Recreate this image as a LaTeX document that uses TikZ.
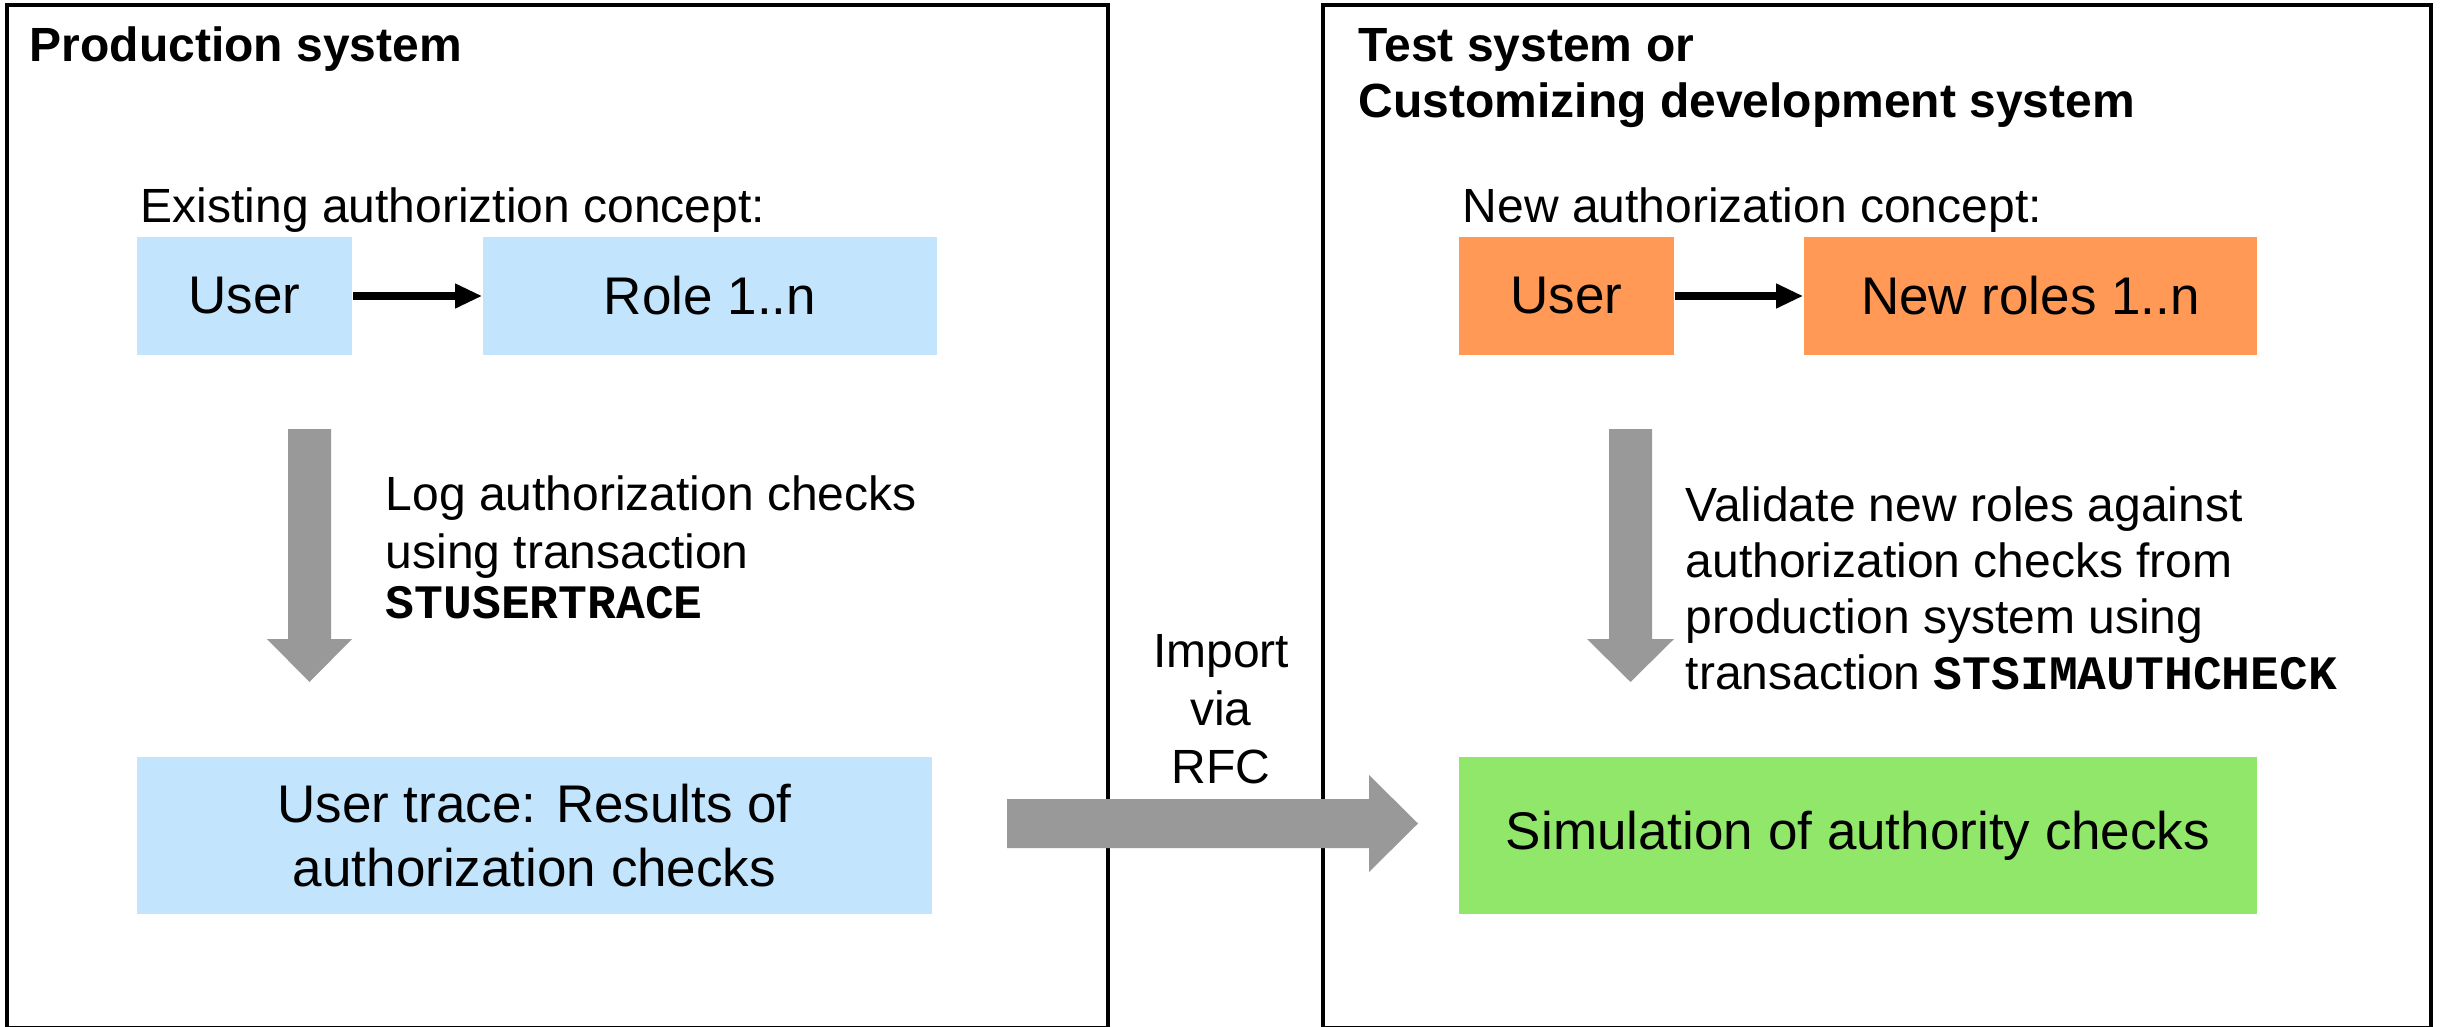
\documentclass[tikz,border=0pt]{standalone}
\usepackage{fontspec}
\setmainfont{Liberation Sans}
\setmonofont{Liberation Mono}
\usetikzlibrary{arrows.meta,calc}
\definecolor{lblue}{HTML}{C2E4FC}
\definecolor{orng}{HTML}{FF9955}
\definecolor{lgreen}{HTML}{91E76A}
\definecolor{gbar}{HTML}{999999}
\tikzset{
  sysframe/.style={draw=black, line width=1pt},
  boxbase/.style={rectangle, inner sep=0pt, draw=none, align=center, font=\fontsize{13.25}{16}\selectfont},
  bluebox/.style={boxbase, fill=lblue},
  orangebox/.style={boxbase, fill=orng},
  greenbox/.style={boxbase, fill=lgreen},
  ttl/.style={inner sep=0pt, font=\fontsize{12}{14}\selectfont\bfseries, align=left},
  txt/.style={inner sep=0pt, font=\fontsize{12}{14}\selectfont, align=left},
  blackarrow/.style={draw=black, line width=2pt, -{Triangle[length=6.75pt,width=5.75pt]}},
  grayarrow/.style={fill=gbar, draw=none},
}
\begin{document}
\begin{tikzpicture}[x=0.25pt, y=-0.25pt]
\useasboundingbox (0,0) rectangle (2440,1027);
\clip (0,0) rectangle (2440,1027);
\fill[white] (0,0) rectangle (2440,1027);

% system frames
\draw[sysframe] (7,5) rectangle (1108,1028);
\draw[sysframe] (1323,5) rectangle (2431,1028);

% titles
\node[ttl, anchor=base west] (tprod) at (29,62) {Production system};
\node[ttl, anchor=north west] (ttest) at (1358,28) {Test system or\\Customizing development system};

% concept labels
\node[txt, anchor=base west] (lexist) at (140,223) {Existing authoriztion concept:};
\node[txt, anchor=base west] (lnew) at (1462,223) {New authorization concept:};

% boxes
\node[bluebox, minimum width=53.75pt, minimum height=29.5pt] (u1) at (244.5,296) {User};
\node[bluebox, minimum width=113.5pt, minimum height=29.5pt] (r1) at (710,296) {Role 1..n};
\node[orangebox, minimum width=53.75pt, minimum height=29.5pt] (u2) at (1566.5,296) {User};
\node[orangebox, minimum width=113.25pt, minimum height=29.5pt] (r2) at (2030.5,296) {New roles 1..n};
\node[bluebox, minimum width=198.75pt, minimum height=39.25pt] (trace) at (534.5,835.5) {User trace: Results of\\authorization checks};
\node[greenbox, minimum width=199.5pt, minimum height=39.25pt] (sim) at (1858,835.5) {Simulation of authority checks};

% black arrows
\draw[blackarrow] (u1) -- (r1);
\draw[blackarrow] (u2) -- (r2);

% step texts
\node[txt, anchor=north west, font=\fontsize{12}{14.5}\selectfont] (tlog) at (385,475) {Log authorization checks\\using transaction\\[-2pt]\texttt{\bfseries STUSERTRACE}};
\node[txt, anchor=north west] (tval) at (1685,486) {Validate new roles against\\authorization checks from\\production system using\\transaction \texttt{\bfseries STSIMAUTHCHECK}};
\node[txt, align=center, anchor=north, font=\fontsize{12}{14.4}\selectfont] (timp) at (1221,634) {Import\\via\\RFC};

% gray block arrows
\coordinate (la1) at (309.5,429);
\coordinate (la2) at (309.5,682);
\fill[grayarrow] ($(la1)+(-21.5,0)$) -- ($(la1)+(21.5,0)$) -- ($(la2)+(21.5,-43)$) -- ($(la2)+(42.5,-43)$) -- (la2) -- ($(la2)+(-42.5,-43)$) -- ($(la2)+(-21.5,-43)$) -- cycle;

\coordinate (ra1) at (1630.5,429);
\coordinate (ra2) at (1630.5,682);
\fill[grayarrow] ($(ra1)+(-21.5,0)$) -- ($(ra1)+(21.5,0)$) -- ($(ra2)+(21.5,-43)$) -- ($(ra2)+(43.5,-43)$) -- (ra2) -- ($(ra2)+(-43.5,-43)$) -- ($(ra2)+(-21.5,-43)$) -- cycle;

\coordinate (ha1) at (1007,823.5);
\coordinate (ha2) at (1418,823.5);
\fill[grayarrow] ($(ha1)+(0,-24.5)$) -- ($(ha2)+(-49,-24.5)$) -- ($(ha2)+(-49,-48.5)$) -- (ha2) -- ($(ha2)+(-49,48.5)$) -- ($(ha2)+(-49,24.5)$) -- ($(ha1)+(0,24.5)$) -- cycle;
\end{tikzpicture}
\end{document}
